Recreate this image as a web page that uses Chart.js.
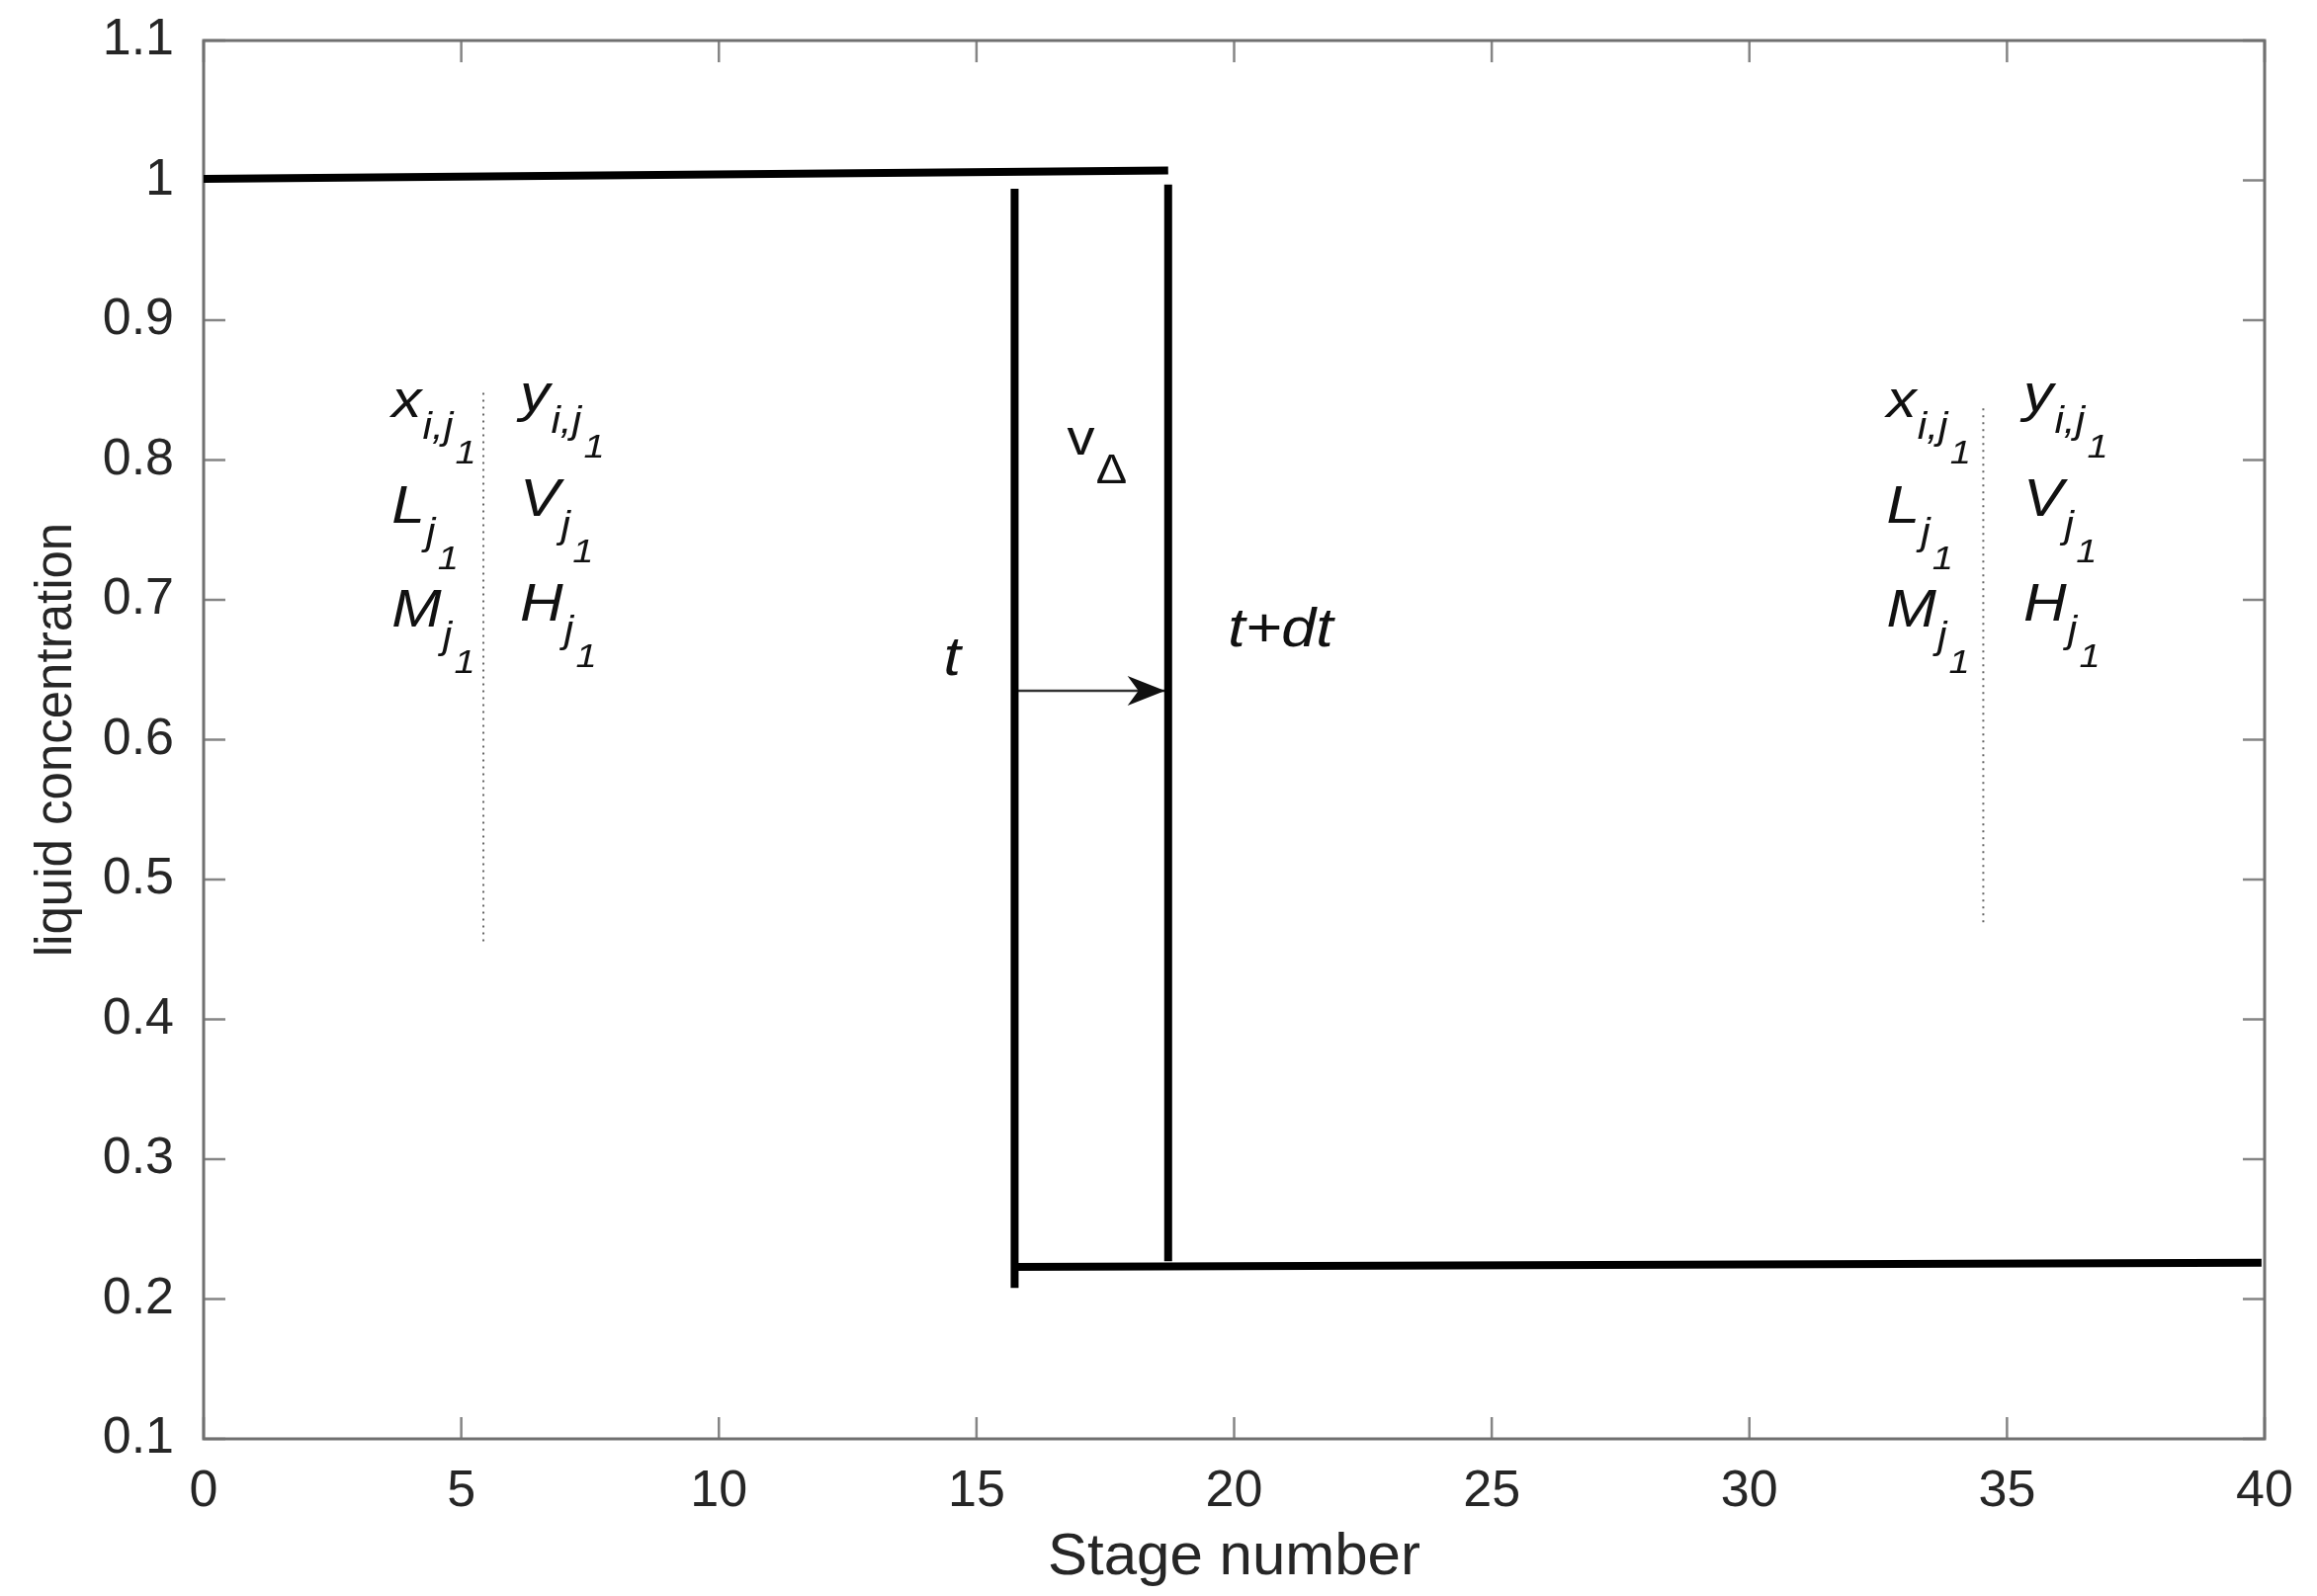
<!DOCTYPE html>
<html>
<head>
<meta charset="utf-8">
<script src="https://cdn.jsdelivr.net/npm/chart.js@4.4.0/dist/chart.umd.min.js"></script>
<style>
  html, body { margin: 0; padding: 0; background: #fff; }
</style>
</head>
<body>
<canvas id="stageChart" width="2344" height="1615"></canvas>
<script>
// axis ticks
const xTicks = [0, 5, 10, 15, 20, 25, 30, 35, 40];
const yTicks = [0.1, 0.2, 0.3, 0.4, 0.5, 0.6, 0.7, 0.8, 0.9, 1.0, 1.1];

// concentration front at time t and t+dt
const topLineX = [0, 18.72];
const topLineY = [1.001, 1.007];
const frontTX = [15.74, 15.74];
const frontTY = [0.994, 0.208];
const frontDtX = [18.72, 18.72];
const frontDtY = [0.997, 0.227];
const bottomLineX = [15.74, 39.94];
const bottomLineY = [0.223, 0.226];

// front velocity arrow
const arrowX = [15.74, 18.66];
const arrowY = [0.635, 0.635];

// dotted dividers between liquid / vapour quantities
const dividerLeftX = [5.43, 5.43];
const dividerLeftY = [0.848, 0.454];
const dividerRightX = [34.54, 34.54];
const dividerRightY = [0.837, 0.468];

// stage variable labels: [main, subscript, sub-subscript]
const liquidVars = [['x', 'i,j', '1'], ['L', 'j', '1'], ['M', 'j', '1']];
const vapourVars = [['y', 'i,j', '1'], ['V', 'j', '1'], ['H', 'j', '1']];
// anchor of each column (stage) and row values (concentration)
const liquidColX = [3.65, 32.66];
const vapourColX = [6.14, 35.32];
const liquidRowY = [0.831, 0.755, 0.681];
const vapourRowY = [0.835, 0.760, 0.685];

// time labels
const timeLabels = ['t', 't+dt'];
const timeLabelX = [14.36, 19.88];
const timeLabelY = [0.646, 0.667];
const velocityLabelX = 16.76;
const velocityLabelY = 0.804;

const toPts = (xs, ys) => xs.map((x, i) => ({ x: x, y: ys[i] }));

const FONT = '"Liberation Sans", Arial, Helvetica, sans-serif';
const STRETCH = 1.12; // the original lettering is a bit wide

function lineSet(xs, ys, width, color, dash) {
  return {
    data: toPts(xs, ys),
    showLine: true,
    borderColor: color,
    backgroundColor: color,
    borderWidth: width,
    borderDash: dash || [],
    borderCapStyle: 'butt',
    pointRadius: 0,
    fill: false,
    clip: false
  };
}

function drawVar(ctx, px, py, parts) {
  ctx.save();
  ctx.translate(px, py);
  ctx.scale(STRETCH, 1);
  ctx.font = 'italic 54px ' + FONT;
  ctx.fillText(parts[0], 0, 0);
  let sx = ctx.measureText(parts[0]).width + 1;
  ctx.font = 'italic 38px ' + FONT;
  ctx.fillText(parts[1], sx, 22);
  sx += ctx.measureText(parts[1]).width + 2;
  ctx.font = 'italic 34px ' + FONT;
  ctx.fillText(parts[2], sx, 47);
  ctx.restore();
}

// box and inward ticks like the original axes
const frameTicks = {
  id: 'frameTicks',
  beforeDatasetsDraw(chart) {
    const { ctx, chartArea: a, scales: { x, y } } = chart;
    const len = 22;
    ctx.save();
    ctx.strokeStyle = '#858585';
    ctx.lineWidth = 2.5;
    ctx.beginPath();
    xTicks.forEach(v => {
      const px = x.getPixelForValue(v);
      ctx.moveTo(px, a.bottom); ctx.lineTo(px, a.bottom - len);
      ctx.moveTo(px, a.top); ctx.lineTo(px, a.top + len);
    });
    yTicks.forEach(v => {
      const py = y.getPixelForValue(v);
      ctx.moveTo(a.left, py); ctx.lineTo(a.left + len, py);
      ctx.moveTo(a.right, py); ctx.lineTo(a.right - len, py);
    });
    ctx.stroke();
    ctx.strokeStyle = '#707070';
    ctx.lineWidth = 3;
    ctx.strokeRect(a.left, a.top, a.right - a.left, a.bottom - a.top);
    ctx.restore();
  }
};

const annotations = {
  id: 'annotations',
  afterDatasetsDraw(chart) {
    const { ctx, scales: { x, y } } = chart;
    ctx.save();
    ctx.fillStyle = '#111';
    ctx.textAlign = 'left';
    ctx.textBaseline = 'alphabetic';

    // arrow head at the end of the velocity arrow
    const meta = chart.getDatasetMeta(4);
    const tip = meta.data[meta.data.length - 1];
    ctx.beginPath();
    ctx.moveTo(tip.x, tip.y);
    ctx.lineTo(tip.x - 38, tip.y - 15);
    ctx.lineTo(tip.x - 27, tip.y);
    ctx.lineTo(tip.x - 38, tip.y + 15);
    ctx.closePath();
    ctx.fill();

    // variable groups
    liquidColX.forEach((cx, g) => {
      liquidVars.forEach((parts, r) => {
        drawVar(ctx, x.getPixelForValue(cx), y.getPixelForValue(liquidRowY[r]), parts);
      });
      vapourVars.forEach((parts, r) => {
        drawVar(ctx, x.getPixelForValue(vapourColX[g]), y.getPixelForValue(vapourRowY[r]), parts);
      });
    });

    // t, t+dt
    timeLabels.forEach((txt, i) => {
      ctx.save();
      ctx.translate(x.getPixelForValue(timeLabelX[i]), y.getPixelForValue(timeLabelY[i]));
      ctx.scale(STRETCH, 1);
      ctx.font = 'italic 56px ' + FONT;
      ctx.fillText(txt, 0, 0);
      ctx.restore();
    });

    // v with delta subscript
    ctx.translate(x.getPixelForValue(velocityLabelX), y.getPixelForValue(velocityLabelY));
    ctx.scale(STRETCH, 1);
    ctx.font = '50px ' + FONT;
    ctx.fillText('v', 0, 0);
    ctx.font = '42px ' + FONT;
    ctx.fillText('\u0394', 26, 29);
    ctx.restore();
  }
};

const ctx = document.getElementById('stageChart').getContext('2d');
const chart = new Chart(ctx, {
  type: 'scatter',
  data: {
    datasets: [
      lineSet(topLineX, topLineY, 8, '#000'),
      lineSet(frontTX, frontTY, 8, '#000'),
      lineSet(frontDtX, frontDtY, 8, '#000'),
      lineSet(bottomLineX, bottomLineY, 8, '#000'),
      lineSet(arrowX, arrowY, 2.5, '#333'),
      lineSet(dividerLeftX, dividerLeftY, 2, '#666', [2, 5]),
      lineSet(dividerRightX, dividerRightY, 2, '#666', [2, 5])
    ]
  },
  options: {
    responsive: false,
    animation: false,
    devicePixelRatio: 1,
    layout: { padding: { left: 0, top: 41, right: 53, bottom: 0 } },
    plugins: {
      legend: { display: false },
      tooltip: { enabled: false }
    },
    scales: {
      x: {
        type: 'linear',
        min: 0,
        max: 40,
        afterBuildTicks: s => { s.ticks = xTicks.map(v => ({ value: v })); },
        afterFit: s => { s.height = 159; },
        // tick marks are drawn by the plugin; tickLength only spaces the labels
        grid: { display: false, drawTicks: true, tickLength: 22 },
        border: { display: false },
        ticks: {
          padding: 0,
          color: '#262626',
          font: { family: FONT, size: 52 },
          maxRotation: 0
        },
        title: {
          display: true,
          text: 'Stage number',
          color: '#262626',
          font: { family: FONT, size: 60 },
          padding: { top: 0, bottom: 3 }
        }
      },
      y: {
        type: 'linear',
        min: 0.1,
        max: 1.1,
        afterBuildTicks: s => { s.ticks = yTicks.map(v => ({ value: v })); },
        afterFit: s => { s.width = 206; },
        grid: { display: false, drawTicks: true, tickLength: 30 },
        border: { display: false },
        ticks: {
          padding: 0,
          color: '#262626',
          font: { family: FONT, size: 52 },
          callback: v => String(Number(v.toFixed(1)))
        },
        title: {
          display: true,
          text: 'liquid concentration',
          color: '#262626',
          font: { family: FONT, size: 51 },
          padding: { top: 27, bottom: 0 }
        }
      }
    }
  },
  plugins: [frameTicks, annotations]
});
</script>
</body>
</html>
